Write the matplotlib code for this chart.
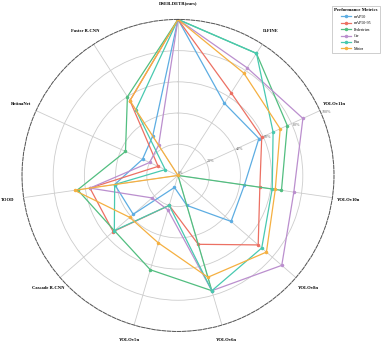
import numpy as np
import matplotlib
matplotlib.use("Agg")
import matplotlib.pyplot as plt

categories = ["DSEB-DETR(ours)", "D-FINE", "YOLOv11n", "YOLOv10n", "YOLOv8n", "YOLOv6n",
              "YOLOv5n", "Cascade R-CNN", "TOOD", "RetinaNet", "Faster R-CNN"]
metrics = ["mAP50", "mAP50-95", "Pedestrian", "Car", "Bus", "Motor"]
map50      = [100, 55, 57, 43, 45, 20, 8, 38, 41, 25, 30]
map50_95   = [100, 63, 59, 53, 68, 46, 20, 55, 57, 14, 57]
pedestrian = [100, 93, 77, 67, 0, 77, 63, 54, 65, 37, 60]
car        = [100, 82, 88, 75, 88, 77, 23, 22, 57, 20, 23]
bus        = [100, 93, 67, 61, 71, 77, 20, 54, 41, 9, 50]
motor      = [100, 78, 72, 63, 75, 68, 45, 41, 67, 0, 57]
series = [map50, map50_95, pedestrian, car, bus, motor]
colors = ["#5DADE2", "#EC7063", "#52BE80", "#BB8FCE", "#48C9B0", "#F5B041"]
rticks = [0, 20, 40, 60, 80, 100]

plt.rcParams['font.family'] = ['Liberation Serif', 'DejaVu Serif']
fig = plt.figure(figsize=(3.81, 3.43), dpi=100)
ax = fig.add_axes([0.0577, 0.0335, 0.819, 0.910], projection='polar')
ax.set_theta_offset(np.pi / 2)
ax.set_theta_direction(-1)

n = len(categories)
angles = np.linspace(0, 2 * np.pi, n, endpoint=False)
ang_closed = np.concatenate([angles, angles[:1]])

for vals, c, m in zip(series, colors, metrics):
    v = np.array(vals + vals[:1], dtype=float)
    ax.plot(ang_closed, v, color=c, lw=0.9, marker='o', markersize=1.5, label=m)

ax.set_ylim(0, 100)
ax.set_xticks(angles)
ax.set_xticklabels(categories, fontsize=3.3, fontweight='bold')
ax.tick_params(axis='x', pad=1)
ax.set_yticks(rticks)
ax.set_yticklabels([f"{t}%" for t in rticks], fontsize=3.0, color='#666666')
ax.set_rlabel_position(67)
ax.grid(color='#cccccc', lw=0.6)
ax.spines['polar'].set_linestyle('--')
ax.spines['polar'].set_color('#555555')
ax.spines['polar'].set_linewidth(0.7)

leg = ax.legend(loc='upper right', bbox_to_anchor=(1.155, 1.05), fontsize=2.9,
                title='Performance Metrics', title_fontproperties={'size': 3.4, 'weight': 'bold'},
                frameon=True, edgecolor='#aaaaaa', fancybox=False, handlelength=2.6,
                labelspacing=0.6, borderpad=0.6, handletextpad=0.6)
leg.get_frame().set_linewidth(0.5)

fig.savefig("out.png", dpi=100)
